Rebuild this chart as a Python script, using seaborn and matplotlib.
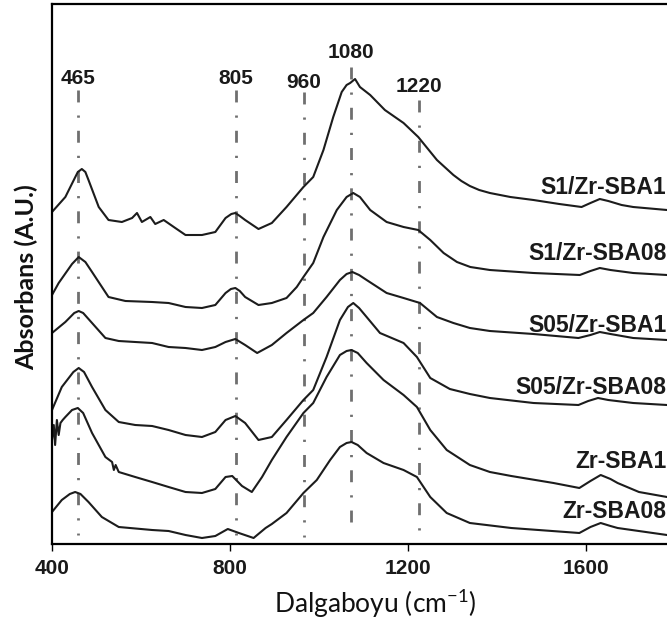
import numpy as np
import pandas as pd
import matplotlib
matplotlib.use("Agg")
import matplotlib.pyplot as plt
import matplotlib.transforms as mtransforms
import seaborn as sns

# ---------------- data ----------------
samples = ["S1/Zr-SBA1", "S1/Zr-SBA08", "S05/Zr-SBA1", "S05/Zr-SBA08", "Zr-SBA1", "Zr-SBA08"]

wn_s1_sba1 = [400, 430, 449, 458, 467, 475, 482, 505, 527, 557, 580, 591, 602, 621, 632, 651, 677, 700,
              737, 767, 790, 803, 812, 822, 834, 864, 894, 927, 965, 987, 1010, 1032, 1051, 1062, 1070,
              1081, 1092, 1115, 1148, 1190, 1223, 1265, 1302, 1320, 1339, 1360, 1384, 1430, 1482, 1540,
              1590, 1610, 1631, 1650, 1680, 1706, 1782]
ab_s1_sba1 = [3.32, 3.47, 3.64, 3.72, 3.75, 3.72, 3.64, 3.37, 3.24, 3.22, 3.26, 3.31, 3.22, 3.27, 3.20,
              3.24, 3.16, 3.09, 3.09, 3.12, 3.26, 3.30, 3.31, 3.28, 3.24, 3.15, 3.21, 3.37, 3.57, 3.67,
              3.94, 4.27, 4.52, 4.59, 4.61, 4.65, 4.57, 4.49, 4.34, 4.21, 4.07, 3.84, 3.69, 3.63, 3.58,
              3.54, 3.51, 3.47, 3.44, 3.40, 3.37, 3.41, 3.45, 3.43, 3.39, 3.37, 3.34]

wn_s1_sba08 = [400, 415, 445, 460, 475, 490, 527, 565, 625, 662, 700, 737, 767, 790, 802, 812, 822, 834,
               864, 894, 927, 950, 965, 987, 1010, 1040, 1062, 1077, 1092, 1115, 1152, 1190, 1223, 1250,
               1280, 1310, 1340, 1384, 1482, 1586, 1610, 1631, 1655, 1706, 1782]
ab_s1_sba08 = [2.49, 2.61, 2.80, 2.87, 2.82, 2.72, 2.47, 2.43, 2.42, 2.41, 2.37, 2.36, 2.39, 2.51, 2.55,
               2.56, 2.53, 2.47, 2.39, 2.41, 2.46, 2.57, 2.67, 2.81, 3.07, 3.34, 3.47, 3.51, 3.47, 3.34,
               3.22, 3.17, 3.14, 3.04, 2.91, 2.82, 2.77, 2.74, 2.71, 2.69, 2.73, 2.76, 2.74, 2.71, 2.69]

wn_s05_sba1 = [400, 430, 450, 460, 470, 490, 520, 550, 587, 625, 662, 700, 737, 767, 790, 812, 834, 861,
               894, 927, 965, 987, 1017, 1047, 1062, 1075, 1090, 1107, 1152, 1190, 1227, 1265, 1302, 1339,
               1384, 1482, 1583, 1610, 1631, 1655, 1706, 1782]
ab_s05_sba1 = [2.11, 2.22, 2.31, 2.33, 2.31, 2.21, 2.06, 2.03, 2.02, 2.01, 1.97, 1.96, 1.94, 1.97, 2.02,
               2.05, 1.99, 1.91, 1.99, 2.11, 2.24, 2.31, 2.47, 2.64, 2.70, 2.72, 2.69, 2.64, 2.51, 2.46,
               2.41, 2.27, 2.21, 2.16, 2.13, 2.10, 2.06, 2.09, 2.12, 2.10, 2.06, 2.04]

wn_s05_sba08 = [400, 422, 448, 460, 472, 490, 520, 550, 587, 625, 662, 700, 737, 767, 790, 812, 834, 864,
                894, 927, 965, 987, 1017, 1047, 1065, 1077, 1090, 1107, 1137, 1190, 1220, 1250, 1294,
                1339, 1384, 1482, 1583, 1605, 1627, 1650, 1706, 1782]
ab_s05_sba08 = [1.34, 1.57, 1.72, 1.76, 1.72, 1.57, 1.34, 1.22, 1.19, 1.18, 1.14, 1.09, 1.07, 1.12, 1.24,
                1.28, 1.21, 1.04, 1.07, 1.24, 1.44, 1.54, 1.87, 2.24, 2.37, 2.41, 2.36, 2.27, 2.11, 2.01,
                1.87, 1.66, 1.55, 1.50, 1.46, 1.41, 1.39, 1.43, 1.46, 1.44, 1.41, 1.39]

wn_zr_sba1 = [400, 404, 407, 411, 415, 419, 424, 430, 445, 458, 470, 490, 520, 535, 539, 543, 550, 587,
              625, 662, 700, 737, 767, 790, 805, 827, 849, 872, 894, 927, 965, 987, 1017, 1047, 1062,
              1073, 1087, 1107, 1145, 1190, 1220, 1250, 1287, 1339, 1384, 1432, 1527, 1585, 1610, 1633,
              1655, 1671, 1719, 1782]
ab_zr_sba1 = [1.04, 1.19, 0.99, 1.24, 1.09, 1.21, 1.24, 1.27, 1.34, 1.36, 1.31, 1.11, 0.87, 0.82, 0.74,
              0.79, 0.72, 0.67, 0.62, 0.57, 0.52, 0.51, 0.55, 0.67, 0.68, 0.58, 0.52, 0.67, 0.84, 1.07,
              1.31, 1.41, 1.67, 1.89, 1.93, 1.94, 1.91, 1.81, 1.64, 1.49, 1.37, 1.14, 0.94, 0.79, 0.72,
              0.68, 0.61, 0.56, 0.63, 0.69, 0.65, 0.61, 0.52, 0.47]

wn_zr_sba08 = [400, 422, 440, 452, 464, 482, 512, 550, 625, 662, 700, 737, 767, 795, 820, 853, 880, 894,
               927, 965, 995, 1025, 1047, 1062, 1073, 1087, 1107, 1145, 1190, 1220, 1250, 1287, 1339,
               1432, 1585, 1610, 1633, 1655, 1671, 1782]
ab_zr_sba08 = [0.32, 0.44, 0.50, 0.52, 0.50, 0.42, 0.27, 0.17, 0.14, 0.13, 0.09, 0.06, 0.08, 0.15, 0.11,
               0.06, 0.16, 0.20, 0.31, 0.51, 0.64, 0.84, 0.97, 1.01, 1.02, 0.99, 0.91, 0.81, 0.74, 0.67,
               0.47, 0.31, 0.21, 0.16, 0.11, 0.17, 0.21, 0.18, 0.16, 0.09]

peak_labels = ["465", "805", "960", "1080", "1220"]
peak_pos = [458, 813, 966, 1072, 1225]
x_ticks = [400, 800, 1200, 1600]

# ---------------- build table ----------------
series_wn = [wn_s1_sba1, wn_s1_sba08, wn_s05_sba1, wn_s05_sba08, wn_zr_sba1, wn_zr_sba08]
series_ab = [ab_s1_sba1, ab_s1_sba08, ab_s05_sba1, ab_s05_sba08, ab_zr_sba1, ab_zr_sba08]
frames = []
for name, w, a in zip(samples, series_wn, series_ab):
    frames.append(pd.DataFrame({"wn": w, "ab": a, "sample": name}))
df = pd.concat(frames, ignore_index=True)

# ---------------- style ----------------
sns.set_style("white")
plt.rcParams["font.family"] = ["Liberation Sans", "DejaVu Sans"]
plt.rcParams["mathtext.fontset"] = "custom"
plt.rcParams["mathtext.rm"] = "Lato"

W, H = 667, 626
fig = plt.figure(figsize=(W / 100, H / 100), dpi=100)
ax = fig.add_axes([52 / W, (H - 544) / H, 1 - 52 / W, 540 / H])

sns.lineplot(data=df, x="wn", y="ab", hue="sample", palette=["#1c1c1c"] * 6,
             sort=False, estimator=None, legend=False, linewidth=1.5, ax=ax)
for ln in ax.lines:
    ln.set_solid_joinstyle("round")

ax.set_xlim(400, 1782)
ax.set_ylim(0, 5.40)

# dash-dot reference lines
line_tops = [4.54, 4.54, 4.52, 4.77, 4.44]
line_bots = [0.09, 0.09, 0.07, 0.16, 0.12]
label_y = [4.66, 4.66, 4.62, 4.92, 4.58]
for xp, lab, yt, yb, ly in zip(peak_pos, peak_labels, line_tops, line_bots, label_y):
    ax.plot([xp, xp], [yt, yb], color="#6f6f6f", linewidth=2.0,
            linestyle=(0, (4.3, 4.7, 0.8, 4.7)), solid_capstyle="butt", dash_capstyle="butt",
            zorder=1)
    ax.text(xp, ly, lab, ha="center", va="center", fontsize=15, fontweight="bold",
            color="#1a1a1a")

# curve labels (right side)
lab_y_px = [188, 253, 325, 388, 462, 512]
trans = mtransforms.blended_transform_factory(fig.transFigure, ax.transData)
for name, ypx in zip(samples, lab_y_px):
    ax.text(0.999, (544 - ypx) / 100, name, transform=trans, ha="right", va="center",
            fontsize=16.5, fontweight="bold", color="#1a1a1a")

# axes styling
for s in ["top", "left", "bottom"]:
    ax.spines[s].set_visible(True)
    ax.spines[s].set_color("black")
    ax.spines[s].set_linewidth(1.6)
ax.spines["right"].set_visible(False)

ax.set_xticks(x_ticks)
ax.set_xticklabels([str(t) for t in x_ticks], fontsize=15, fontweight="bold", color="#1a1a1a")
ax.set_yticks([])
ax.tick_params(axis="x", direction="out", length=5, width=1, pad=6, bottom=True, color="black")

ax.set_xlabel("Dalgaboyu (cm$^{\\mathregular{-1}}$)", family=["Lato", "DejaVu Sans"],
              fontsize=19, color="#111111")
ax.xaxis.set_label_coords((375 - 52) / (W - 52), -(603 - 544) / 540)
ax.xaxis.label.set_va("center")
ax.set_ylabel("Absorbans (A.U.)", family=["Lato", "DejaVu Sans"], fontweight="bold",
              fontsize=18, color="#111111")
ax.yaxis.set_label_coords(-(52 - 26) / (W - 52), (544 - 277) / 540)
ax.yaxis.label.set_va("center")

fig.savefig("out.png", dpi=100)
